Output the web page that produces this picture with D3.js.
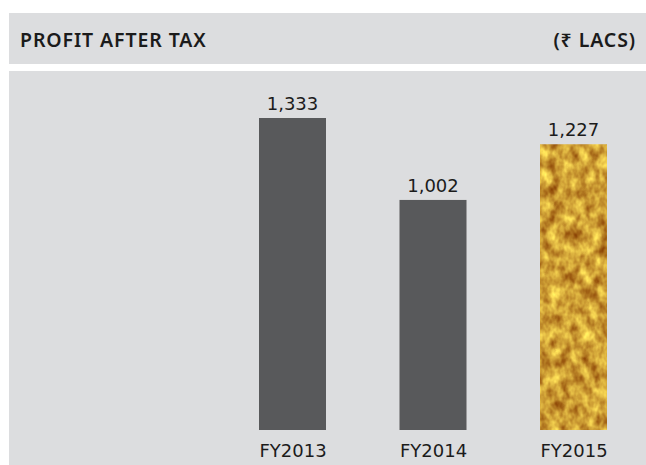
<!DOCTYPE html>
<html>
<head>
<meta charset="utf-8">
<script src="https://cdn.jsdelivr.net/npm/d3@7"></script>
<style>
  body { margin: 0; background: #fff; }
  svg { display: block; }
  text { font-family: "DejaVu Sans", sans-serif; fill: #1b1b1b; }
</style>
</head>
<body>
<svg id="chart" width="646" height="465"></svg>
<script>
const years = ["FY2013", "FY2014", "FY2015"];
const profit = [1333, 1002, 1227];
const valueLabels = ["1,333", "1,002", "1,227"];
const title = "PROFIT AFTER TAX";
const unit = "(₹ LACS)";

const width = 646, height = 465;
const svg = d3.select("#chart");
const panelGrey = "#dcdddf";

// gold foil texture for the last bar
const defs = svg.append("defs");
const gold = defs.append("filter")
    .attr("id", "gold")
    .attr("x", 0).attr("y", 0).attr("width", 1).attr("height", 1)
    .attr("color-interpolation-filters", "sRGB");
gold.append("feTurbulence")
    .attr("type", "fractalNoise")
    .attr("baseFrequency", "0.1 0.07")
    .attr("numOctaves", 3)
    .attr("seed", 7)
    .attr("result", "noise");
gold.append("feColorMatrix")
    .attr("in", "noise")
    .attr("type", "matrix")
    .attr("values", "0.7 0 0 0 0.46  0.95 0 0 0 0.15  0.5 0 0 0 -0.04  0 0 0 0 1")
    .attr("result", "tint");
gold.append("feComposite")
    .attr("in", "tint")
    .attr("in2", "SourceAlpha")
    .attr("operator", "in");

// header band and chart panel
svg.append("rect")
    .attr("x", 9).attr("y", 13)
    .attr("width", width - 9).attr("height", 51)
    .attr("fill", panelGrey);
svg.append("rect")
    .attr("x", 9).attr("y", 71)
    .attr("width", width - 9).attr("height", height - 71)
    .attr("fill", panelGrey);

svg.append("text")
    .attr("x", 20).attr("y", 47)
    .attr("font-size", 19.5)
    .attr("font-weight", 600)
    .attr("letter-spacing", 0.9)
    .style("font-family", "'Noto Sans', sans-serif")
    .text(title);
svg.append("text")
    .attr("x", 636).attr("y", 47)
    .attr("text-anchor", "end")
    .attr("font-size", 19.5)
    .attr("font-weight", 600)
    .attr("letter-spacing", 0.9)
    .style("font-family", "'Noto Sans', sans-serif")
    .text(unit);

// scales
const barW = 67, barBottom = 430;
const x = d3.scalePoint().domain(years).range([292.5, 573.5]);
const y = d3.scaleLinear().domain([0, d3.max(profit)]).range([448, 118]);

const data = years.map((yr, i) => ({ yr, v: profit[i], label: valueLabels[i], i }));

svg.append("g").selectAll("rect")
    .data(data)
    .join("rect")
    .attr("x", d => x(d.yr) - barW / 2)
    .attr("y", d => y(d.v))
    .attr("width", barW)
    .attr("height", d => barBottom - y(d.v))
    .attr("fill", d => d.i === 2 ? "#d2a02a" : "#58595b")
    .attr("filter", d => d.i === 2 ? "url(#gold)" : null);

svg.append("g").selectAll("text")
    .data(data)
    .join("text")
    .attr("x", d => x(d.yr))
    .attr("y", d => y(d.v) - 8)
    .attr("text-anchor", "middle")
    .attr("font-size", 18)
    .text(d => d.label);

// category axis labels
const axis = svg.append("g")
    .attr("transform", `translate(0,${barBottom})`)
    .call(d3.axisBottom(x).tickSize(0).tickPadding(10));
axis.select(".domain").remove();
axis.selectAll("text")
    .attr("font-size", 18)
    .attr("dy", null)
    .attr("y", 27)
    .style("font-family", "DejaVu Sans, sans-serif")
    .attr("fill", "#1b1b1b");
</script>
</body>
</html>
